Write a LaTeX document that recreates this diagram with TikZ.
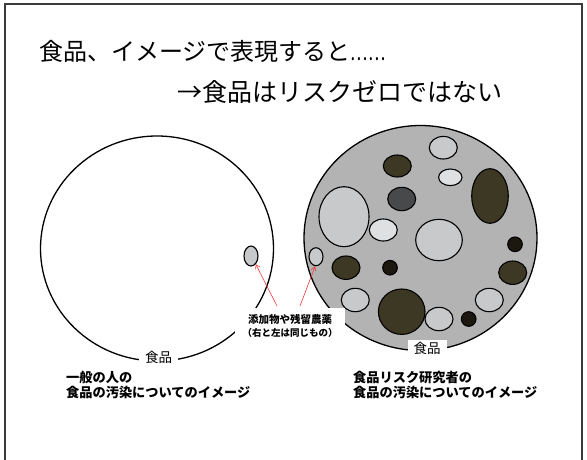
\documentclass[tikz,border=0pt]{standalone}
\usepackage{graphicx}
\usepackage{fontspec}
\setmainfont{Noto Sans CJK JP}
\usetikzlibrary{shapes.geometric,arrows.meta}
\definecolor{bgray}{HTML}{B3B3B3}
\definecolor{lgray}{HTML}{C8C9CB}
\definecolor{vlgray}{HTML}{DFE0E2}
\definecolor{olive}{HTML}{3C3824}
\definecolor{dgray}{HTML}{48494B}
\definecolor{nblack}{HTML}{1C1810}
\definecolor{arrred}{HTML}{F03A3A}
\definecolor{framec}{HTML}{3A3A3A}
\begin{document}
\begin{tikzpicture}[x=1pt,y=-1pt,
  blob/.style={ellipse,draw=black,line width=1.1pt,inner sep=0pt},
  sz/.style 2 args={minimum width=#1,minimum height=#2},
  bigc/.style={ellipse,draw=black,line width=1.3pt,inner sep=0pt,minimum width=233,minimum height=225},
  title/.style={anchor=base west,inner sep=0pt,font=\fontsize{24}{28}\selectfont},
  foodlab/.style={fill=white,inner xsep=6pt,inner ysep=2pt,font=\fontsize{13.5}{15}\selectfont},
  caption/.style={anchor=north west,inner sep=0pt,align=left,font=\bfseries\fontsize{13.2}{14.5}\selectfont},
  redarrow/.style={draw=arrred,line width=0.6pt,-{Straight Barb[length=4pt,width=5pt]}}]
\clip (0,0) rectangle (587,459);
\useasboundingbox (0,0) rectangle (587,459);
\fill[white] (0,0) rectangle (587,459);
\draw[framec,line width=1.5pt] (5,4) rectangle (582,470);

% title
\node[title] (t1) at (39,60) {食品、イメージで表現すると\scalebox{0.68}[1]{……}};
\node[title,font=\fontsize{25}{28}\selectfont] (t2) at (177,101) {→食品はリスクゼロではない};

% left circle
\node[bigc] (lc) at (157,248.5) {};
\node[blob,fill=lgray,sz={14}{20}] (lsm) at (251,256) {};
\node[foodlab] (lfood) at (158.5,357) {食品};

% right circle
\node[bigc,fill=bgray] (rc) at (420.5,238) {};
\node[blob,fill=lgray,sz={28}{22.6}] (e1) at (443.3,147.7) {};
\node[blob,fill=olive,sz={28}{22}] (e2) at (397.3,166) {};
\node[blob,fill=vlgray,sz={23.4}{16.6}] (e3) at (450.3,177.3) {};
\node[blob,fill=olive,sz={36.6}{54.6}] (e4) at (490,196) {};
\node[blob,fill=dgray,sz={28}{23.4}] (e5) at (401.7,199) {};
\node[blob,fill=lgray,sz={50}{60}] (e6) at (344,216.7) {};
\node[blob,fill=vlgray,sz={28}{22}] (e7) at (383.3,230) {};
\node[blob,fill=lgray,sz={46.6}{41.4}] (e8) at (439,240) {};
\node[blob,fill=nblack,sz={14.6}{14.6}] (e9) at (515,244.3) {};
\node[blob,fill=lgray,sz={14}{18}] (rsm) at (316,256.7) {};
\node[blob,fill=olive,sz={28}{23.4}] (e11) at (346,267.7) {};
\node[blob,fill=nblack,sz={14.6}{14.6}] (e12) at (390,267.7) {};
\node[blob,fill=olive,sz={28}{23.4}] (e13) at (512.7,272.7) {};
\node[blob,fill=lgray,sz={28}{23.4}] (e14) at (355.3,300) {};
\node[blob,fill=olive,sz={46.6}{45.4}] (e15) at (401.7,311.7) {};
\node[blob,fill=lgray,sz={28}{23.4}] (e16) at (489.3,300) {};
\node[blob,fill=lgray,sz={28}{23.4}] (e17) at (439,319) {};
\node[blob,fill=nblack,sz={14.6}{14.6}] (e18) at (468.7,319) {};
\node[foodlab] (rfood) at (427,348) {食品};

% annotation
\node[fill=white,inner sep=0pt,minimum width=110,minimum height=36,align=center,
      font=\bfseries\fontsize{10.5}{12.5}\selectfont] (note) at (290,326)
      {添加物や残留農薬\\{\fontsize{9.5}{12.5}\selectfont （右と左は同じもの）}};
\coordinate (a1) at (277,306);
\coordinate (a2) at (300,306);
\draw[redarrow] (a1) -- (lsm.300);
\draw[redarrow] (a2) -- (rsm.265);

% captions
\node[caption] (lcap) at (66,371) {一般の人の\\食品の汚染についてのイメージ};
\node[caption] (rcap) at (353,371) {食品リスク研究者の\\食品の汚染についてのイメージ};
\end{tikzpicture}
\end{document}
